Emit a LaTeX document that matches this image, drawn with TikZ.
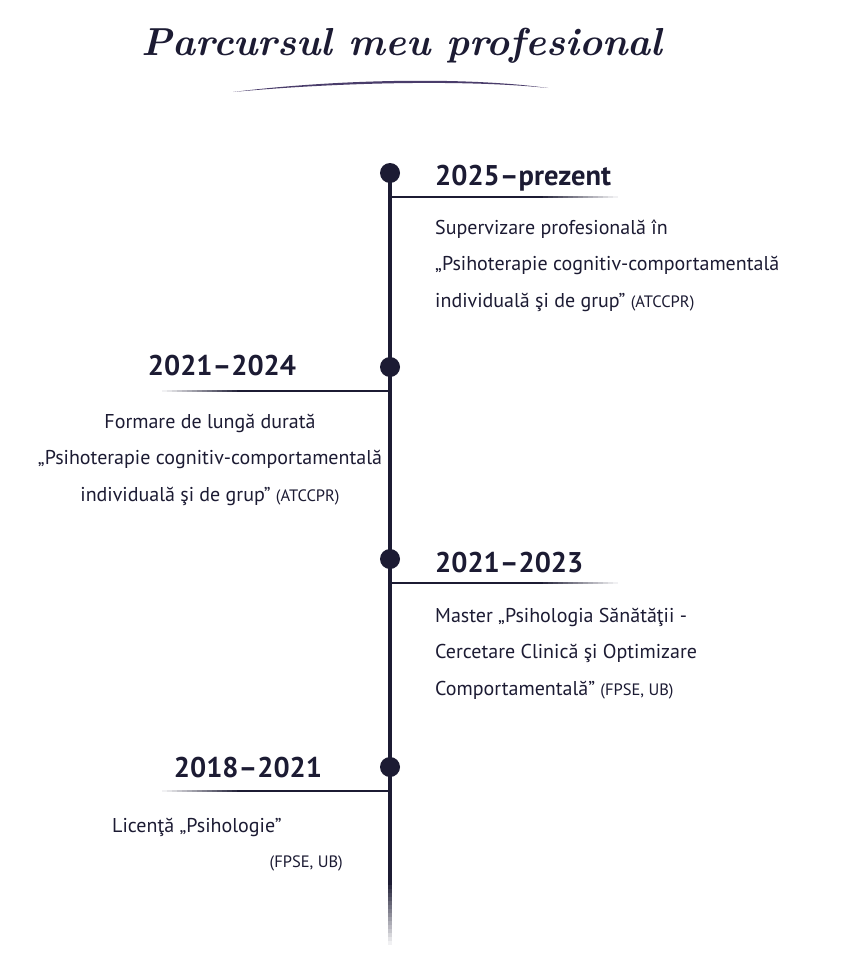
\documentclass[tikz,border=0pt]{standalone}
\usepackage{fontspec}
\setmainfont{PT Sans}
\newfontfamily\titlefont{Latin Modern Roman}
\usetikzlibrary{positioning}

% colors
\definecolor{cInk}{HTML}{1C1B33}
\definecolor{cSwash}{HTML}{4A3D6B}

\begin{document}
\begin{tikzpicture}[x=1pt, y=-1pt]

% -------------------------------------------------------
% Layout parameters (pixels, y downwards)
% -------------------------------------------------------
\def\xLine{390}   % timeline
\def\xR{435}      % left edge of right-hand entries
\def\fadeL{75}    % length of the faded end of a branch
\def\blen{228}    % branch length
\def\nfade{15}    % steps in a fade

% Y positions of the dots
\def\yA{173}
\def\yB{367}
\def\yC{559}
\def\yD{767}

\tikzstyle{dot} = [circle, fill=cInk, minimum size=20pt, inner sep=0pt];
\tikzstyle{spine} = [line width=4pt, cInk];
\tikzstyle{branch} = [line width=2pt, cInk];
\tikzstyle{year} = [font=\fontsize{28.5}{30}\selectfont\bfseries, text=cInk, inner sep=0pt];
\tikzstyle{entry} = [font=\fontsize{20}{36.5}\selectfont, text=cInk, inner sep=0pt];
\newcommand{\aside}[1]{{\fontsize{16.5}{36}\selectfont #1}}

\useasboundingbox[fill=white] (0,0) rectangle (853,958);

%%%%%% TITLE
\node[text=cInk, font=\titlefont\bfseries\itshape\fontsize{39}{50}\selectfont, inner sep=0pt] (title) at (402,46) {Parcursul meu profesional};
\fill[cSwash] (233,92) .. controls (330,80) and (460,76) .. (548,88) .. controls (460,79) and (330,83) .. (233,92) -- cycle;

%%%%%% TIMELINE
\node[dot] (dA) at (\xLine,\yA) {};
\node[dot] (dB) at (\xLine,\yB) {};
\node[dot] (dC) at (\xLine,\yC) {};
\node[dot] (dD) at (\xLine,\yD) {};
\coordinate (spineEnd) at (\xLine,885);
\draw[spine] (dA.center) -- (spineEnd);
\foreach \i in {1,...,\nfade}{
  \pgfmathtruncatemacro{\pc}{100-100*\i/(\nfade+1)}
  \draw[spine, cInk!\pc!white, line cap=butt] (\xLine,885+4*\i-4) -- ++(0,4.2);
}

%%%%%% BRANCHES
% right: 2025, 2021-2023 / left: 2021-2024, 2018-2021
\foreach \y/\s in {\yA/1,\yC/1,\yB/-1,\yD/-1}{
  \draw[branch] (\xLine,\y+24) -- ++(\s*\blen-\s*\fadeL,0);
  \foreach \i in {1,...,\nfade}{
    \pgfmathtruncatemacro{\pc}{100-100*\i/(\nfade+1)}
    \draw[branch, cInk!\pc!white] (\xLine+\s*\blen-\s*\fadeL+\s*5*\i-\s*5,\y+24) -- ++(\s*5.2,0);
  }
}

%%%%%% ENTRIES
% 2025-prezent
\node[year, anchor=base west] (yA) at (\xR,185) {2025–prezent};
\node[entry, anchor=base west, align=left] (eA) at (\xR,307)
  {Supervizare profesională în\\„Psihoterapie cognitiv-comportamentală\\individuală şi de grup” \aside{(ATCCPR)}};

% 2021-2024
\node[year, anchor=base] (yB) at (222,375) {2021–2024};
\node[entry, anchor=base, align=center] (eB) at (210,501)
  {Formare de lungă durată\\„Psihoterapie cognitiv-comportamentală\\individuală şi de grup” \aside{(ATCCPR)}};

% 2021-2023
\node[year, anchor=base west] (yC) at (\xR,572) {2021–2023};
\node[entry, anchor=base west, align=left] (eC) at (\xR,695)
  {Master „Psihologia Sănătăţii -\\Cercetare Clinică şi Optimizare\\Comportamentală” \aside{(FPSE, UB)}};

% 2018-2021
\node[year, anchor=base] (yD) at (248,777) {2018–2021};
\node[entry, anchor=base west] (eD) at (112,832) {Licenţă „Psihologie”};
\node[entry, anchor=base east] (eDx) at (343,867) {\aside{(FPSE, UB)}};

\end{tikzpicture}
\end{document}
